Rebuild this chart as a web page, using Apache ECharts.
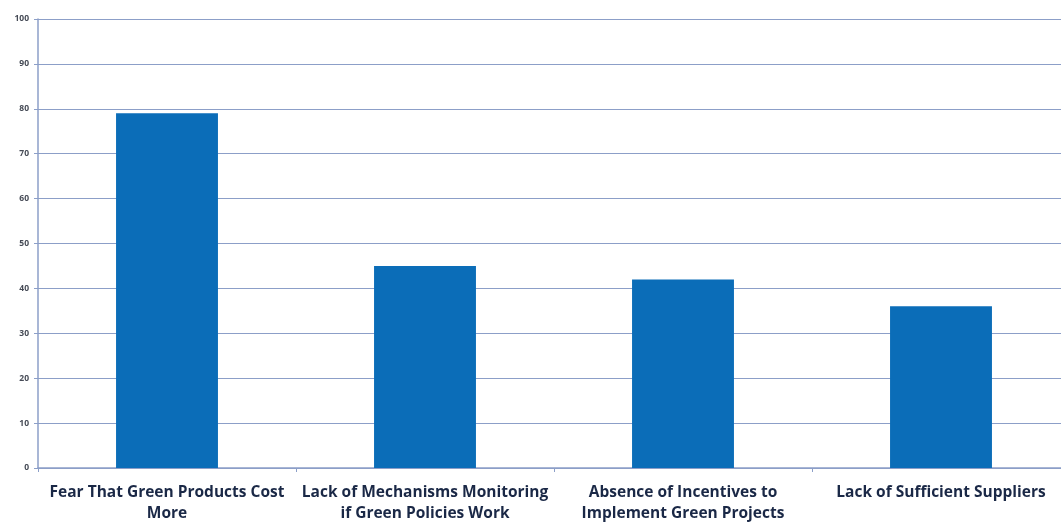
<!DOCTYPE html>
<html>
<head>
<meta charset="utf-8">
<script src="https://cdn.jsdelivr.net/npm/echarts@6/dist/echarts.min.js"></script>
<style>
html,body{margin:0;padding:0;background:#fff;overflow:hidden;width:1061px;height:524px;}
#c{width:1070px;height:524px;}
</style>
</head>
<body>
<div id="c"></div>
<script>
const categories = [
  "Fear That Green Products Cost\nMore",
  "Lack of Mechanisms Monitoring\nif Green Policies Work",
  "Absence of Incentives to\nImplement Green Projects",
  "Lack of Sufficient Suppliers"
];
const values = [79, 45, 42, 36];
const yTicks = { min: 0, max: 100, interval: 10 };

const chart = echarts.init(document.getElementById('c'));
chart.setOption({
  animation: false,
  backgroundColor: '#ffffff',
  grid: { left: 38, right: 0, top: 19, bottom: 53, containLabel: false },
  xAxis: {
    type: 'category',
    data: categories,
    axisLine: { show: true, lineStyle: { color: '#8c9fc8', width: 1.5 } },
    axisTick: { show: true, length: 4, lineStyle: { color: '#8c9fc8' } },
    axisLabel: {
      interval: 0,
      color: '#1a2846',
      fontFamily: 'Open Sans',
      fontWeight: 700,
      fontSize: 15.5,
      lineHeight: 21,
      margin: 14
    }
  },
  yAxis: {
    type: 'value',
    min: yTicks.min, max: yTicks.max, interval: yTicks.interval,
    axisLine: { show: true, lineStyle: { color: '#8c9fc8', width: 1.5 } },
    axisTick: { show: true, length: 4, lineStyle: { color: '#8c9fc8' } },
    splitLine: { show: true, lineStyle: { color: '#8c9fc8', width: 1.2 } },
    axisLabel: {
      color: '#464b56',
      fontFamily: 'Open Sans',
      fontWeight: 700,
      fontSize: 8.5,
      margin: 9
    }
  },
  series: [{
    type: 'bar',
    data: values,
    barWidth: '39.5%',
    itemStyle: { color: '#0b6db8' }
  }]
});
</script>
</body>
</html>
